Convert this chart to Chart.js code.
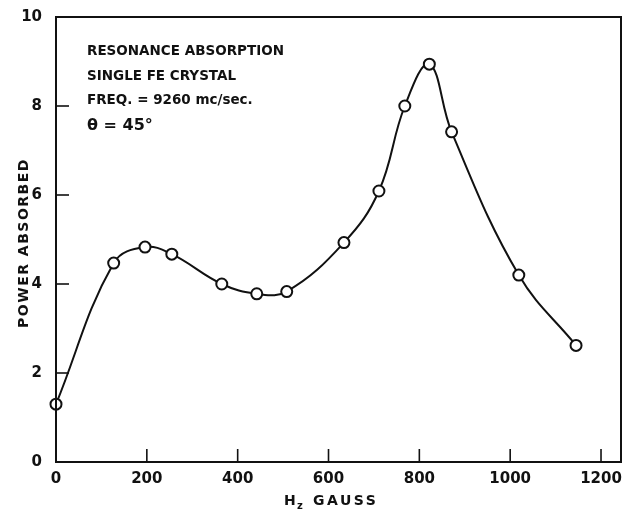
<!DOCTYPE html>
<html>
<head>
<meta charset="utf-8">
<script src="https://cdn.jsdelivr.net/npm/chart.js@4"></script>
<style>
html,body{margin:0;padding:0;background:#fff;}
#wrap{width:624px;height:513px;}
</style>
</head>
<body>
<div id="wrap"><canvas id="c" width="624" height="513"></canvas></div>
<script>
// Data
const fieldGauss = [0, 127, 196, 255, 365, 442, 508, 634, 711, 768, 822, 871, 1019, 1145];
const powerAbsorbed = [1.3, 4.47, 4.83, 4.67, 4.0, 3.78, 3.83, 4.93, 6.09, 8.0, 8.94, 7.42, 4.2, 2.62];
const xTicks = [0, 200, 400, 600, 800, 1000, 1200];
const yTicks = [0, 2, 4, 6, 8, 10];
const noteLines = ["RESONANCE ABSORPTION", "SINGLE FE CRYSTAL", "FREQ. = 9260 mc/sec.", "\u03B8 = 45\u00B0"];
const yTitle = "POWER ABSORBED";
const xTitleMain = "H";
const xTitleSub = "z";
const xTitleRest = "GAUSS";

const pts = fieldGauss.map((x, i) => ({x: x, y: powerAbsorbed[i]}));
const FONT = "'DejaVu Sans', sans-serif";
const INK = '#111';

const decor = {
  id: 'decor',
  afterDraw(chart) {
    const ctx = chart.ctx;
    const a = chart.chartArea;
    const xs = chart.scales.x, ys = chart.scales.y;
    ctx.save();
    ctx.strokeStyle = INK;
    ctx.lineWidth = 2;
    ctx.strokeRect(a.left, a.top, a.right - a.left, a.bottom - a.top);
    // inward ticks
    ctx.lineWidth = 1.6;
    yTicks.forEach(v => {
      if (v === 0 || v === 10) return;
      const py = ys.getPixelForValue(v);
      ctx.beginPath(); ctx.moveTo(a.left, py); ctx.lineTo(a.left + 13, py); ctx.stroke();
    });
    xTicks.forEach(v => {
      if (v === 0) return;
      const px = xs.getPixelForValue(v);
      ctx.beginPath(); ctx.moveTo(px, a.bottom); ctx.lineTo(px, a.bottom - 13); ctx.stroke();
    });
    // note text
    ctx.fillStyle = INK;
    ctx.textAlign = 'left';
    ctx.textBaseline = 'alphabetic';
    const baseY = [55, 80, 104, 130];
    noteLines.forEach((t, i) => {
      ctx.font = (i === 3 ? "bold 16px " : "bold 13.5px ") + FONT;
      ctx.fillText(t, 87, baseY[i]);
    });
    // y title
    ctx.save();
    ctx.translate(24, 243);
    ctx.rotate(-Math.PI / 2);
    ctx.textAlign = 'center';
    ctx.textBaseline = 'middle';
    ctx.font = "bold 14px " + FONT;
    try { ctx.letterSpacing = '1.5px'; } catch (e) {}
    ctx.fillText(yTitle, 0, 0);
    ctx.restore();
    // x title with subscript
    ctx.save();
    ctx.textAlign = 'left';
    ctx.textBaseline = 'alphabetic';
    ctx.font = "bold 14px " + FONT;
    ctx.fillText(xTitleMain, 284, 505);
    ctx.font = "bold 10px " + FONT;
    ctx.fillText(xTitleSub, 297, 509);
    ctx.font = "bold 14px " + FONT;
    try { ctx.letterSpacing = '2.5px'; } catch (e) {}
    ctx.fillText(xTitleRest, 313, 505);
    ctx.restore();
    ctx.restore();
  }
};

new Chart(document.getElementById('c'), {
  type: 'scatter',
  data: {
    datasets: [
      {
        data: pts,
        showLine: true,
        borderColor: INK,
        borderWidth: 2,
        tension: 0.4,
        pointRadius: 5.5,
        pointBorderWidth: 2,
        pointBackgroundColor: '#fff',
        pointBorderColor: INK,
        clip: false
      },
      {
        data: pts,
        showLine: false,
        pointRadius: 1,
        pointBorderWidth: 0,
        pointBackgroundColor: INK,
        clip: false
      }
    ]
  },
  options: {
    responsive: false,
    animation: false,
    events: [],
    layout: {autoPadding: false, padding: {left: 0, right: 3, top: 17, bottom: 0}},
    plugins: {legend: {display: false}, tooltip: {enabled: false}},
    scales: {
      x: {
        type: 'linear',
        min: 0, max: 1244,
        afterBuildTicks: s => { s.ticks = xTicks.map(v => ({value: v})); },
        afterFit: s => { s.height = 51; s.paddingLeft = 0; s.paddingRight = 0; },
        grid: {display: false, drawTicks: false},
        border: {display: false},
        ticks: {color: INK, padding: 8, font: {family: FONT, size: 15, weight: 'bold'}, maxRotation: 0,
                callback: v => String(v)}
      },
      y: {
        type: 'linear',
        min: 0, max: 10,
        afterBuildTicks: s => { s.ticks = yTicks.map(v => ({value: v})); },
        afterFit: s => { s.width = 56; s.paddingTop = 0; s.paddingBottom = 0; },
        grid: {display: false, drawTicks: false},
        border: {display: false},
        ticks: {color: INK, padding: 14, font: {family: FONT, size: 15, weight: 'bold'},
                callback: v => String(v)}
      }
    }
  },
  plugins: [decor]
});
</script>
</body>
</html>
